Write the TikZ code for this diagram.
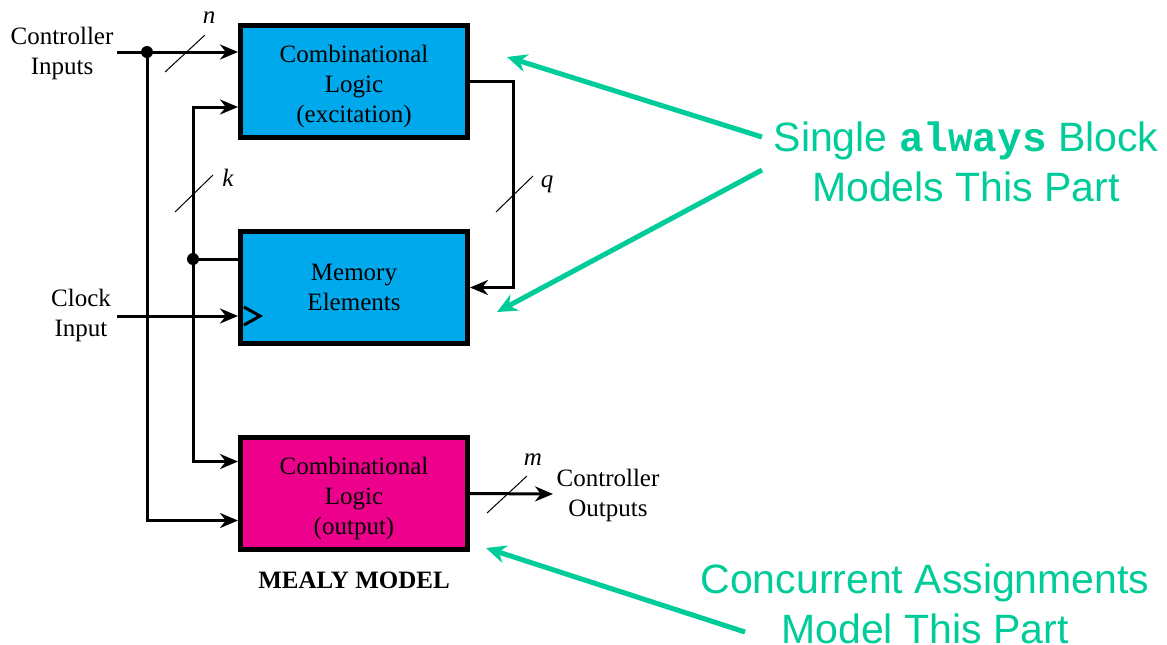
\documentclass[tikz,border=0pt]{standalone}
\usepackage{fontspec}
\setmainfont{Liberation Serif}
\newfontfamily\notefont{Liberation Sans}
\newfontfamily\codefont{Liberation Mono}
\usetikzlibrary{arrows.meta,positioning}
\definecolor{blockblue}{RGB}{0,169,236}
\definecolor{blockpink}{RGB}{236,0,140}
\definecolor{notegreen}{RGB}{0,204,153}
\newcommand{\toppad}{\rule{0pt}{14pt}}

\begin{document}
\begin{tikzpicture}[x=0.5pt,y=-0.5pt,>={Stealth[length=9pt,width=7.5pt]},
                    line width=1.5pt,node distance=44.5pt,
                    block/.style={rectangle,draw,line width=2.5pt,minimum width=113.5pt,
                      minimum height=56pt,align=center,font=\fontsize{12.5}{15}\selectfont},
                    label text/.style={align=center,font=\fontsize{12.5}{15}\selectfont},
                    bus/.style={line width=0.5pt},
                    bus label/.style={font=\itshape\fontsize{12.5}{15}\selectfont},
                    note/.style={align=center,text=notegreen,font=\notefont\fontsize{20.5}{25}\selectfont},
                    note arrow/.style={draw=notegreen,line width=2.5pt,-{Stealth[length=10pt,width=9pt]}}]
  \useasboundingbox (0,0) rectangle (1167,644);
  % blocks
  \node[block,fill=blockblue] (exc) at (354,81.5) {\toppad Combinational\\Logic\\(excitation)};
  \node[block,fill=blockblue] (mem) [below=of exc] {Memory\\Elements};
  \node[block,fill=blockpink] (out) [below=of mem] {\toppad Combinational\\Logic\\(output)};
  \node[font=\bfseries\fontsize{12.5}{15}\selectfont] (title) at (354,580) {MEALY MODEL};
  % inputs and outputs
  \node[label text] (cin) at (62,53) {Controller\\Inputs};
  \node[label text] (ckin) at (81,315) {Clock\\Input};
  \node[label text] (cout) at (608,495) {Controller\\Outputs};
  \coordinate (cinend) at (117,52);
  \coordinate (dotn) at (147,52);
  \coordinate (ckend) at (117,316);
  \coordinate (dotk) at (193,259);
  \coordinate (outend) at (553,494);
  \coordinate (clk) at (mem.west |- ckend);
  % wires
  \draw[->] (cinend) -- (exc.west |- cinend);
  \draw[->] (dotn) |- ([yshift=-13.5pt]out.west);
  \draw[->] (dotk) |- ([yshift=-12.75pt]exc.west);
  \draw[->] (dotk) |- ([yshift=16pt]out.west);
  \draw (dotk) -- (mem.west |- dotk);
  \draw[->] (ckend) -- (clk);
  \draw[->] (exc.east) -- ++(21.5pt,0) |- (mem.east);
  \draw[->] (out.east) -- (outend);
  \fill (dotn) circle (3pt);
  \fill (dotk) circle (3pt);
  \draw ([shift={(3pt,4.5pt)}]clk) -- ([shift={(11pt,0pt)}]clk) -- ([shift={(3pt,-4.5pt)}]clk);
  % bus widths
  \draw[bus] (165,72) -- (205,35);
  \node[bus label] (n) at (209,18) {n};
  \draw[bus] (175,212) -- (213,175);
  \node[bus label] (k) at (228,178) {k};
  \draw[bus] (496,212) -- (533,176);
  \node[bus label] (q) at (547,184) {q};
  \draw[bus] (487,513) -- (527,476);
  \node[bus label] (m) at (533,460) {m};
  % notes
  \node[note] (single) at (966,162) {Single {\codefont\bfseries always} Block\\Models This Part};
  \node[note] (conc) at (925,604) {Concurrent Assignments\\Model This Part};
  \coordinate (s1) at (762,137);
  \coordinate (s2) at (762,170);
  \coordinate (c1) at (745,632);
  \coordinate (excnote) at (507,57);
  \coordinate (memnote) at (497,312);
  \coordinate (outnote) at (486,548);
  \draw[note arrow] (s1) -- (excnote);
  \draw[note arrow] (s2) -- (memnote);
  \draw[note arrow] (c1) -- (outnote);
\end{tikzpicture}
\end{document}
